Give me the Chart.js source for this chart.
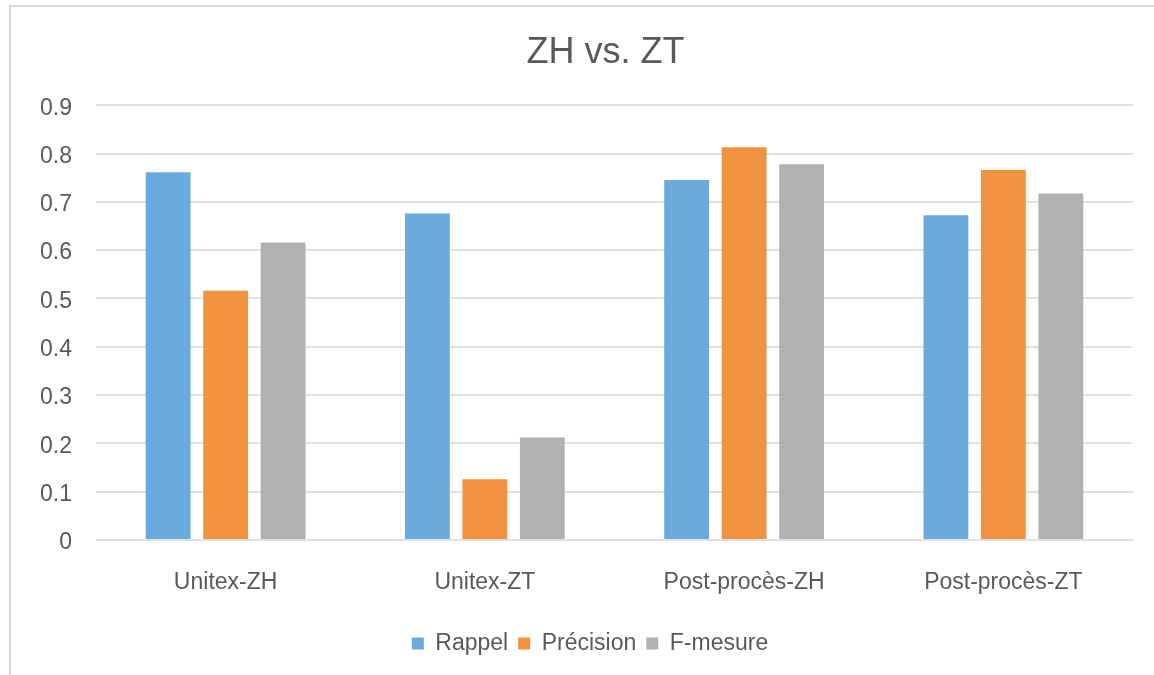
<!DOCTYPE html>
<html>
<head>
<meta charset="utf-8">
<title>ZH vs. ZT</title>
<script src="https://cdn.jsdelivr.net/npm/chart.js@4.4.0/dist/chart.umd.min.js"></script>
<style>
    body { margin: 0; background: #fff; }
    #wrap { position: relative; width: 1154px; height: 675px; }
    #frame { position: absolute; left: 9px; top: 5px; right: -5px; bottom: -5px; border: 2px solid #d9d9d9; pointer-events: none; }
</style>
</head>
<body>
<div id="wrap">
    <canvas id="zhChart" width="1154" height="675"></canvas>
    <div id="frame"></div>
</div>
<script>
const categories = ['Unitex-ZH', 'Unitex-ZT', 'Post-procès-ZH', 'Post-procès-ZT'];
const rappel = [0.761, 0.676, 0.745, 0.672];
const precision = [0.516, 0.126, 0.813, 0.766];
const fMesure = [0.616, 0.212, 0.778, 0.717];
const yTicks = [0, 0.1, 0.2, 0.3, 0.4, 0.5, 0.6, 0.7, 0.8, 0.9];

const textColor = '#595959';
const fontFamily = '"Liberation Sans", Arial, sans-serif';

// nudge title and legend sideways, the way the original sits
const shiftBoxes = {
    id: 'shiftBoxes',
    afterLayout: function(chart) {
        chart.titleBlock.left -= 9;
        chart.titleBlock.right -= 9;
        chart.legend.left += 47;
    }
};

const ctx = document.getElementById('zhChart').getContext('2d');
const zhChart = new Chart(ctx, {
    type: 'bar',
    data: {
        labels: categories,
        datasets: [
            { label: 'Rappel', data: rappel, backgroundColor: '#6aaadc' },
            { label: 'Précision', data: precision, backgroundColor: '#f19240' },
            { label: 'F-mesure', data: fMesure, backgroundColor: '#b1b1b1' }
        ]
    },
    options: {
        responsive: false,
        animation: false,
        categoryPercentage: 0.665,
        barPercentage: 0.78,
        layout: {
            padding: { left: 0, right: 21, top: 0, bottom: 10 }
        },
        scales: {
            x: {
                grid: { display: false },
                border: { display: false },
                ticks: {
                    color: textColor,
                    padding: 21,
                    font: { family: fontFamily, size: 23 }
                },
                afterFit: function(scale) { scale.height = 82; }
            },
            y: {
                min: 0,
                max: 0.9,
                afterBuildTicks: function(scale) {
                    scale.ticks = yTicks.map(function(v) { return { value: v }; });
                },
                grid: { color: '#e0e0e0', lineWidth: 2, drawTicks: false },
                border: { display: false },
                ticks: {
                    color: textColor,
                    padding: 24,
                    labelOffset: 3,
                    font: { family: fontFamily, size: 23 },
                    callback: function(v) { return String(+v.toFixed(1)); }
                },
                afterFit: function(scale) { scale.width = 96; }
            }
        },
        plugins: {
            title: {
                display: true,
                fullSize: false,
                text: 'ZH vs. ZT',
                color: textColor,
                font: { family: fontFamily, size: 36, weight: 'normal' },
                padding: { top: 31, bottom: 31 }
            },
            legend: {
                position: 'bottom',
                labels: {
                    color: textColor,
                    boxWidth: 12,
                    boxHeight: 12,
                    padding: 10,
                    font: { family: fontFamily, size: 23 }
                }
            },
            tooltip: { enabled: false }
        }
    },
    plugins: [shiftBoxes]
});
</script>
</body>
</html>
